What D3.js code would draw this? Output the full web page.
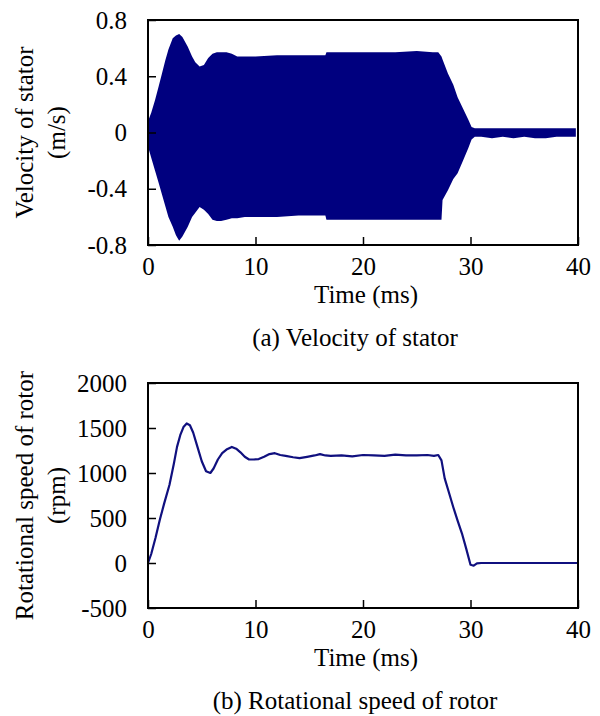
<!DOCTYPE html>
<html>
<head>
<meta charset="utf-8">
<script src="https://cdn.jsdelivr.net/npm/d3@7"></script>
<style>
  body { margin: 0; background: #fff; }
  svg { display: block; font-family: "Liberation Serif", "Times New Roman", serif; }
</style>
</head>
<body>
<div id="chart"></div>
<script>
// stator velocity: envelope of the high-frequency vibration (m/s)
const velTime  = [0, 0.3, 0.65, 1.0, 1.3, 1.6, 1.9, 2.3, 2.6, 2.9, 3.2, 3.7, 4.1, 4.4, 4.8, 5.2, 5.6, 6.0, 6.4, 6.8, 7.3, 7.8, 8.3, 9.0, 10, 12, 14, 16.5, 16.6, 19, 21, 23, 25, 26.5, 27.0, 27.3, 27.4, 27.9, 28.4, 28.8, 29.3, 29.8, 30.1, 30.4, 31, 32, 33, 34, 35, 36, 37, 38, 39, 39.8];
const velUpper = [0.08, 0.14, 0.23, 0.33, 0.42, 0.51, 0.59, 0.67, 0.69, 0.70, 0.68, 0.61, 0.54, 0.50, 0.47, 0.48, 0.53, 0.56, 0.57, 0.57, 0.57, 0.56, 0.54, 0.54, 0.54, 0.55, 0.55, 0.55, 0.57, 0.57, 0.57, 0.57, 0.58, 0.57, 0.57, 0.54, 0.52, 0.42, 0.34, 0.25, 0.17, 0.09, 0.04, 0.03, 0.03, 0.03, 0.03, 0.03, 0.03, 0.03, 0.03, 0.03, 0.03, 0.03];
const velLower = [-0.10, -0.18, -0.27, -0.36, -0.44, -0.52, -0.60, -0.67, -0.73, -0.77, -0.74, -0.67, -0.60, -0.57, -0.53, -0.55, -0.58, -0.62, -0.63, -0.63, -0.62, -0.61, -0.61, -0.60, -0.60, -0.60, -0.59, -0.59, -0.62, -0.62, -0.62, -0.62, -0.62, -0.62, -0.62, -0.62, -0.48, -0.41, -0.33, -0.29, -0.20, -0.11, -0.05, -0.03, -0.03, -0.04, -0.03, -0.04, -0.03, -0.04, -0.04, -0.03, -0.03, -0.03];

// rotor speed (rpm)
const rpmTime  = [0, 0.3, 0.7, 1.1, 1.5, 2.0, 2.4, 2.7, 3.0, 3.3, 3.6, 3.9, 4.2, 4.6, 5.0, 5.4, 5.8, 6.1, 6.5, 6.9, 7.3, 7.8, 8.2, 8.6, 9.0, 9.4, 9.8, 10.3, 10.8, 11.3, 11.8, 12.3, 12.8, 13.5, 14.1, 14.8, 15.5, 16.0, 16.5, 17, 18, 19, 20, 21, 22, 23, 24, 25, 26, 26.6, 27.0, 27.3, 27.6, 28.0, 28.4, 28.8, 29.2, 29.6, 30.0, 30.3, 30.6, 31, 40];
const rpmValue = [0, 100, 280, 480, 660, 870, 1100, 1290, 1420, 1510, 1550, 1530, 1450, 1290, 1130, 1020, 1000, 1050, 1150, 1220, 1260, 1290, 1270, 1230, 1180, 1150, 1150, 1155, 1180, 1210, 1220, 1200, 1190, 1175, 1165, 1180, 1195, 1210, 1195, 1190, 1195, 1185, 1200, 1195, 1190, 1205, 1195, 1195, 1200, 1190, 1200, 1140, 940, 780, 620, 470, 330, 160, -20, -30, -5, 0, 0];

const xTicks = [0, 10, 20, 30, 40];
const velTicks = [-0.8, -0.4, 0, 0.4, 0.8];
const rpmTicks = [-500, 0, 500, 1000, 1500, 2000];

const W = 600, H = 716;
const left = 148, right = 578;
const fontSize = 25;

const svg = d3.select("#chart").append("svg")
  .attr("width", W).attr("height", H)
  .attr("viewBox", `0 0 ${W} ${H}`);

svg.append("rect").attr("width", W).attr("height", H).attr("fill", "#fff");

const x = d3.scaleLinear().domain([0, 40]).range([left, right]);

// plain hyphen for negatives, like the original figure
const hyphen = f => d => f(d).replace("\u2212", "-");

function panel(top, bottom, yDomain, yTicks, yFmt, titleLines, caption, drawData) {
  const y = d3.scaleLinear().domain(yDomain).range([bottom, top]);

  drawData(y);

  // frame
  svg.append("rect")
    .attr("x", left).attr("y", top)
    .attr("width", right - left).attr("height", bottom - top)
    .attr("fill", "none").attr("stroke", "#000").attr("stroke-width", 2);

  const ya = svg.append("g")
    .attr("transform", `translate(${left},0)`)
    .call(d3.axisLeft(y).tickValues(yTicks).tickFormat(yFmt).tickSize(-8).tickPadding(21));
  const xa = svg.append("g")
    .attr("transform", `translate(0,${bottom})`)
    .call(d3.axisBottom(x).tickValues(xTicks).tickFormat(d3.format("d")).tickSize(-8).tickPadding(12));

  [ya, xa].forEach(a => {
    a.select(".domain").remove();
    a.selectAll(".tick line").attr("stroke", "#000").attr("stroke-width", 1.5);
    a.selectAll(".tick text")
      .attr("fill", "#000")
      .attr("font-family", "Liberation Serif, Times New Roman, serif")
      .attr("font-size", fontSize);
  });

  const cy = (top + bottom) / 2;
  svg.append("text")
    .attr("transform", `translate(33,${cy}) rotate(-90)`)
    .attr("text-anchor", "middle")
    .attr("font-size", fontSize)
    .text(titleLines[0]);
  svg.append("text")
    .attr("transform", `translate(65,${cy}) rotate(-90)`)
    .attr("text-anchor", "middle")
    .attr("font-size", fontSize)
    .text(titleLines[1]);

  svg.append("text")
    .attr("x", (left + right) / 2 + 3).attr("y", bottom + 58)
    .attr("text-anchor", "middle")
    .attr("font-size", fontSize)
    .text("Time (ms)");

  svg.append("text")
    .attr("x", 355).attr("y", bottom + 101)
    .attr("text-anchor", "middle")
    .attr("font-size", fontSize)
    .text(caption);
}

// (a) velocity of stator
const velData = velTime.map((t, i) => ({ t, hi: velUpper[i], lo: velLower[i] }));
panel(20, 245, [-0.8, 0.8], velTicks, hyphen(d => d === 0 ? "0" : d3.format(".1f")(d)),
  ["Velocity of stator", "(m/s)"], "(a) Velocity of stator",
  y => {
    svg.append("path")
      .datum(velData)
      .attr("fill", "#00007f")
      .attr("d", d3.area().x(d => x(d.t)).y0(d => y(d.lo)).y1(d => y(d.hi)));
  });

// (b) rotational speed of rotor
const rpmData = rpmTime.map((t, i) => ({ t, v: rpmValue[i] }));
panel(383, 608, [-500, 2000], rpmTicks, hyphen(d3.format("d")),
  ["Rotational speed of rotor", "(rpm)"], "(b) Rotational speed of rotor",
  y => {
    svg.append("path")
      .datum(rpmData)
      .attr("fill", "none")
      .attr("stroke", "#10107f")
      .attr("stroke-width", 2.2)
      .attr("stroke-linejoin", "round")
      .attr("d", d3.line().x(d => x(d.t)).y(d => y(d.v)));
  });
</script>
</body>
</html>
